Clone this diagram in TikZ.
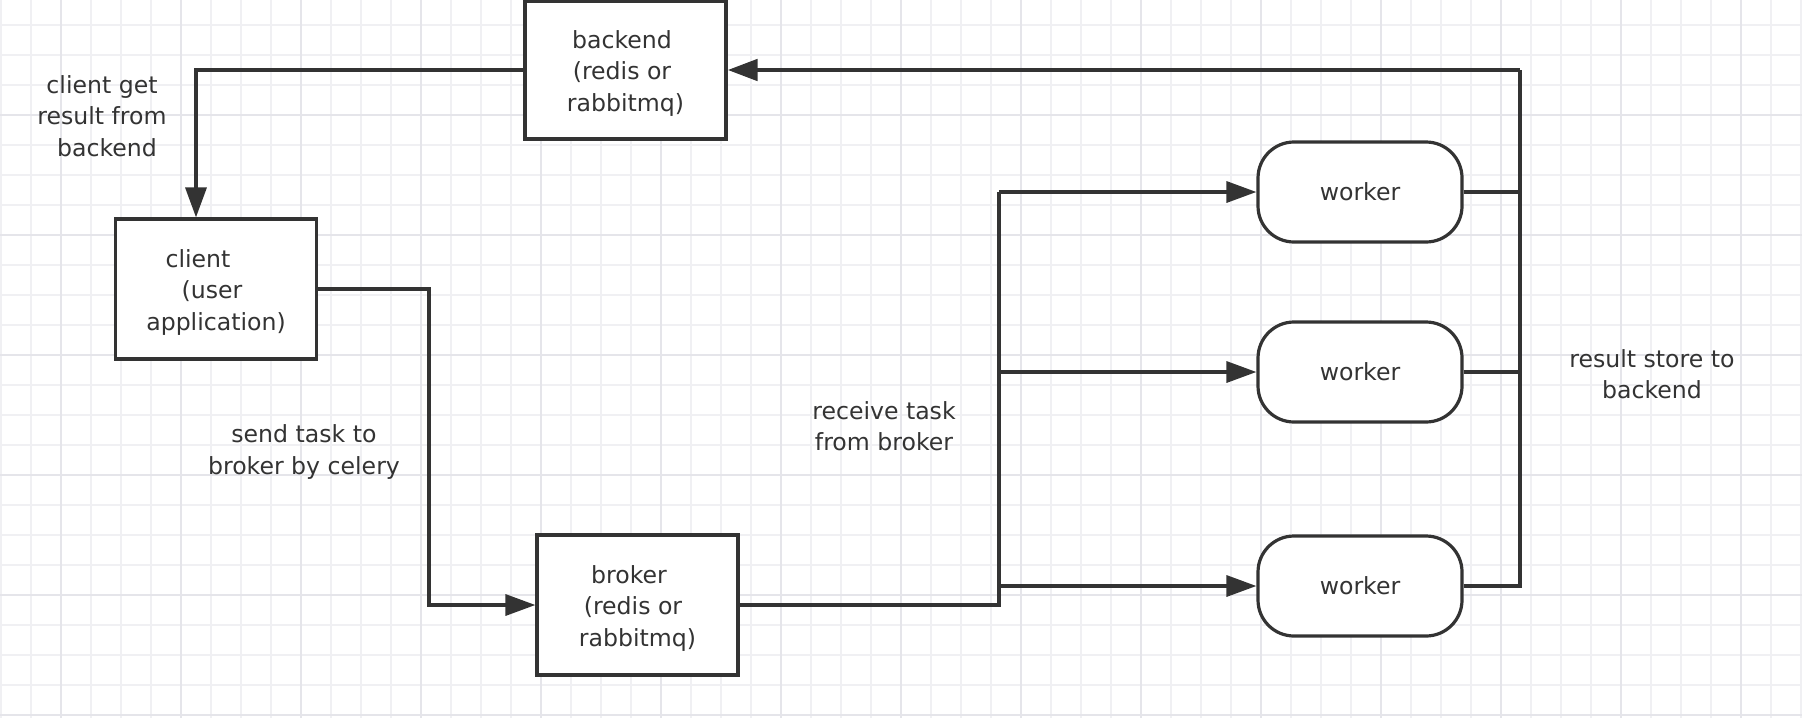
\documentclass[tikz,border=0pt]{standalone}
\usepackage{fontspec}
\setmainfont{DejaVu Sans}
\usetikzlibrary{arrows.meta}
\definecolor{ink}{HTML}{333333}
\definecolor{gridminor}{RGB}{240,240,243}
\definecolor{gridmajor}{RGB}{229,229,234}
\begin{document}
\begin{tikzpicture}[x=0.5pt,y=-0.5pt,
  every node/.style={font=\fontsize{11.8pt}{15.75pt}\selectfont, text=ink, align=center, inner sep=0pt},
  sqbox/.style={draw=ink, line width=1.6pt, fill=white, minimum width=100.5pt, minimum height=#1},
  workerbox/.style={draw=ink, line width=1.6pt, fill=white, rounded corners=18pt, minimum width=102pt, minimum height=50pt},
  conn/.style={draw=ink, line width=1.7pt},
  heavy/.style={draw=ink, line width=2.4pt},
  arr/.style={-{Triangle[length=15pt,width=10.5pt]}},
  minorline/.style={draw=gridminor, line width=0.8pt},
  majorline/.style={draw=gridmajor, line width=0.9pt}]
\useasboundingbox (0,0) rectangle (1802,718);
\fill[white] (0,0) rectangle (1802,718);
% grid
\foreach \k in {0,...,60} \draw[minorline] (1+30*\k,0) -- (1+30*\k,718);
\foreach \k in {0,...,23} \draw[minorline] (0,25+30*\k) -- (1802,25+30*\k);
\foreach \k in {0,...,14} \draw[majorline] (61+120*\k,0) -- (61+120*\k,718);
\foreach \k in {0,...,5} \draw[majorline] (0,115+120*\k) -- (1802,115+120*\k);
% boxes
\node[sqbox=69pt] (backend) at (625.5,70) {\rule{0pt}{12pt}backend\rule{3.5pt}{0pt}\\(redis or\rule{3.5pt}{0pt}\\rabbitmq)};
\node[sqbox=70pt] (client) at (216,289) {\rule{0pt}{12pt}client\rule{18pt}{0pt}\\(user\rule{4pt}{0pt}\\application)};
\node[sqbox=70pt] (broker) at (637.5,605) {\rule{0pt}{12pt}broker\rule{8.5pt}{0pt}\\(redis or\rule{4.5pt}{0pt}\\rabbitmq)};
\node[workerbox] (w1) at (1360,192) {worker};
\node[workerbox] (w2) at (1360,372) {worker};
\node[workerbox] (w3) at (1360,586) {worker};
% labels
\node (getlbl) at (102,116) {client get\\result from\\\rule{5pt}{0pt}backend};
\node (sendlbl) at (304,452) {send task to\\broker by celery};
\node (recvlbl) at (884,426) {receive task\\from broker};
\node (reslbl) at (1652,374) {result store to\\backend};
% junction coordinates
\coordinate (trunk) at (999,192);
\coordinate (ret) at (1520,70);
% connectors
\draw[conn,arr] (backend.west) -| ([xshift=-10pt]client.north);
\draw[conn,arr] (client.east) -- ++(55.5pt,0) |- (broker.west);
\draw[heavy] (broker.east) -| (trunk);
\draw[conn,arr] (trunk) -- (w1.west);
\draw[conn,arr] (w2.west -| trunk) -- (w2.west);
\draw[conn,arr] (w3.west -| trunk) -- (w3.west);
\draw[conn] (w1.east) -- (w1.east -| ret);
\draw[conn] (w2.east) -- (w2.east -| ret);
\draw[conn] (w3.east) -| (ret);
\draw[heavy,arr] (ret) -- (backend.east);
\end{tikzpicture}
\end{document}
